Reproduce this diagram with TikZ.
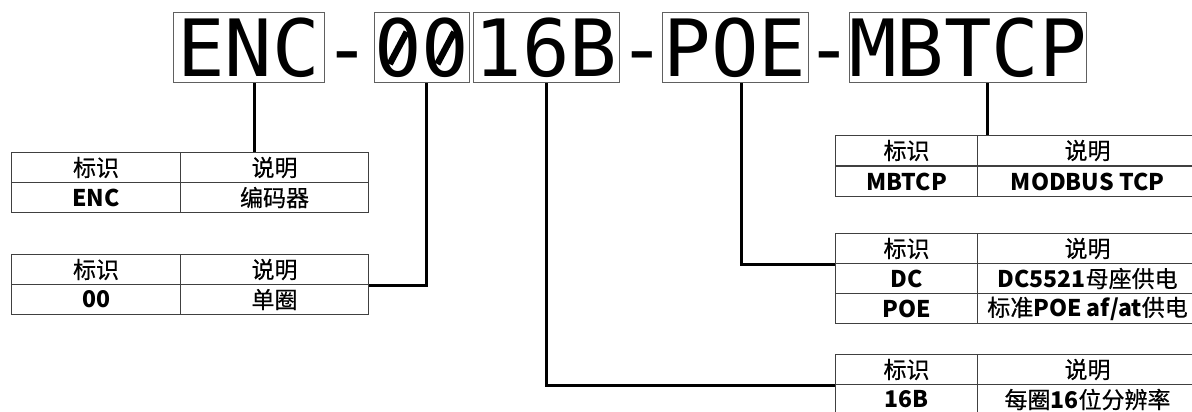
\documentclass[tikz,border=0pt]{standalone}
\usepackage{fontspec}
\setmainfont{Noto Sans CJK SC}[UprightFeatures={FakeBold=0.5}]
\newfontfamily\monof{DejaVu Sans Mono}
\definecolor{boxline}{HTML}{606060}
\definecolor{tabline}{HTML}{404040}
\tikzset{
  segbox/.style={draw=boxline, line width=1pt, inner sep=0pt, minimum height=70pt, font=\monof\fontsize{79}{79}\selectfont, text height=58pt, text depth=0pt},
  dashtxt/.style={inner sep=0pt, font=\monof\fontsize{79}{79}\selectfont, text height=58pt, text depth=0pt},
  cell/.style={draw=tabline, line width=1.1pt, inner sep=0pt, minimum height=30pt, anchor=north west, font=\fontsize{23}{23}\selectfont},
  conn/.style={draw=black, line width=3pt},
  zslash/.style={line width=6.5pt},
}
\newcommand{\lb}[1]{{\bfseries #1}}
\begin{document}
\begin{tikzpicture}[x=1pt,y=-1pt]
\useasboundingbox (0,0) rectangle (1192,412);
\clip (0,0) rectangle (1192,412);
% title segments
\node[segbox, minimum width=151pt] (enc) at (248.5,48) {ENC};
\node[dashtxt] (d1) at (347.5,48) {-};
\node[segbox, minimum width=94pt] (zz) at (422,48) {00};
\node[segbox, minimum width=146pt] (sb) at (546,48) {16B};
\node[dashtxt] (d2) at (642,48) {-};
\node[segbox, minimum width=146pt] (poe) at (735,48) {POE};
\node[dashtxt] (d3) at (829,48) {-};
\node[segbox, minimum width=236pt] (mb) at (968,48) {MBTCP};
% slashed zeros
\foreach \cx in {398.2,445.8}{
  \fill[white] (\cx,48) ellipse [x radius=7pt, y radius=11pt];
  \draw[zslash] (\cx-8.5,64) -- (\cx+8.5,32);
}
% table ENC
\node[cell, minimum width=169pt] (t1a) at (11,152) {标识};
\node[cell, minimum width=188pt] (t1b) at (180,152) {说明};
\node[cell, minimum width=169pt] (t1c) at (11,182) {\lb{ENC}};
\node[cell, minimum width=188pt] (t1d) at (180,182) {编码器};
% table 00
\node[cell, minimum width=169pt] (t2a) at (11,254) {标识};
\node[cell, minimum width=188pt] (t2b) at (180,254) {说明};
\node[cell, minimum width=169pt] (t2c) at (11,284) {\lb{00}};
\node[cell, minimum width=188pt] (t2d) at (180,284) {单圈};
% table MBTCP
\node[cell, minimum width=142pt] (t3a) at (835,135) {标识};
\node[cell, minimum width=220pt] (t3b) at (977,135) {说明};
\node[cell, minimum width=142pt] (t3c) at (835,166) {\lb{MBTCP}};
\node[cell, minimum width=220pt] (t3d) at (977,166) {\lb{MODBUS TCP}};
% table POE
\node[cell, minimum width=142pt] (t4a) at (835,233) {标识};
\node[cell, minimum width=220pt] (t4b) at (977,233) {说明};
\node[cell, minimum width=142pt] (t4c) at (835,263) {\lb{DC}};
\node[cell, minimum width=220pt] (t4d) at (977,263) {\lb{DC5521}母座供电};
\node[cell, minimum width=142pt] (t4e) at (835,293) {\lb{POE}};
\node[cell, minimum width=220pt] (t4f) at (977,293) {标准\lb{POE af/at}供电};
% table 16B
\node[cell, minimum width=142pt] (t5a) at (835,354) {标识};
\node[cell, minimum width=220pt] (t5b) at (977,354) {说明};
\node[cell, minimum width=142pt] (t5c) at (835,384) {\lb{16B}};
\node[cell, minimum width=220pt] (t5d) at (977,384) {每圈\lb{16}位分辨率};
% connectors
\draw[conn] ([xshift=5.5pt]enc.south) -- ([xshift=5.5pt]enc.south |- t1b.north);
\draw[conn] ([xshift=4pt]zz.south) |- (t2b.south east);
\draw[conn] (sb.south) |- (t5a.south west);
\draw[conn] ([xshift=6pt]poe.south) |- (t4a.south west);
\draw[conn] ([xshift=19pt]mb.south) -- ([xshift=19pt]mb.south |- t3b.north);
\end{tikzpicture}
\end{document}
